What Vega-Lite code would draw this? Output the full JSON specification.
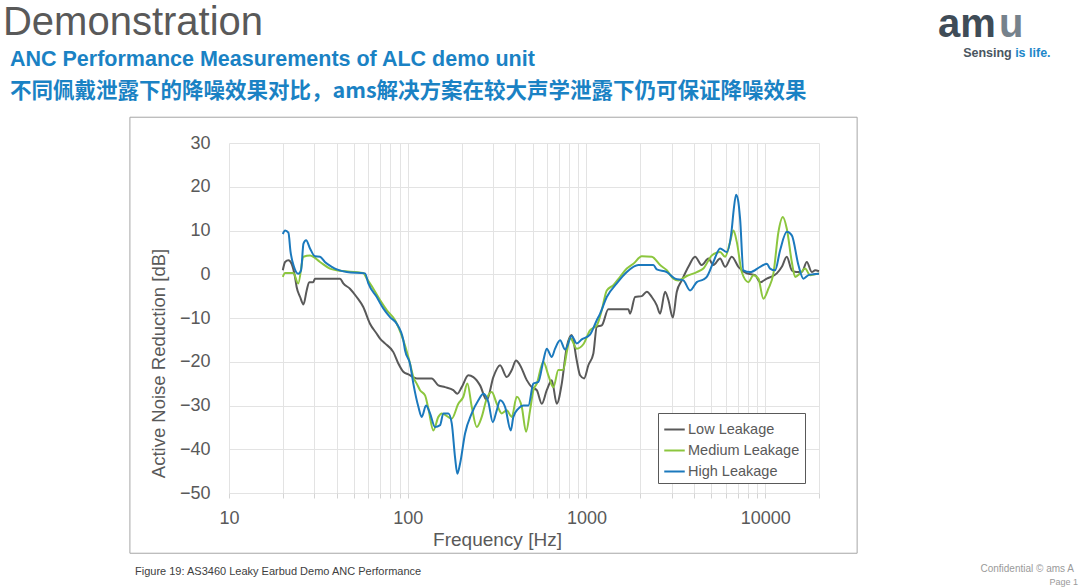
{
  "$schema": "https://vega.github.io/schema/vega-lite/v6.json",
  "width": 590,
  "height": 350,
  "autosize": {"type": "none"},
  "padding": {"left": 229, "top": 143, "right": 261, "bottom": 94},
  "background": "#ffffff",
  "config": {"view": {"stroke": null}, "font": "Liberation Sans"},
  "layer": [
    {
      "data": {"values": [{"box": "frame"}]},
      "mark": {"type": "rect", "filled": false, "stroke": "#a6a6a6", "strokeWidth": 1, "clip": false},
      "encoding": {
        "x": {"datum": 2.79, "type": "quantitative"},
        "x2": {"datum": 32690},
        "y": {"datum": 35.89, "type": "quantitative"},
        "y2": {"datum": -63.77}
      }
    },
    {
      "data": {"values": [
        {"series": "Low Leakage", "freq": 20, "db": 0.9}, {"series": "Low Leakage", "freq": 20.6, "db": 2.8}, {"series": "Low Leakage", "freq": 21.5, "db": 3.2}, {"series": "Low Leakage", "freq": 22.4, "db": 2.4}, {"series": "Low Leakage", "freq": 23.4, "db": -0.6}, {"series": "Low Leakage", "freq": 23.9, "db": -2.9}, {"series": "Low Leakage", "freq": 25, "db": -5.2}, {"series": "Low Leakage", "freq": 26.1, "db": -6.9}, {"series": "Low Leakage", "freq": 27.2, "db": -3.7}, {"series": "Low Leakage", "freq": 28.1, "db": -1.8}, {"series": "Low Leakage", "freq": 29.6, "db": -1.8}, {"series": "Low Leakage", "freq": 30.3, "db": -1.0}, {"series": "Low Leakage", "freq": 41.8, "db": -1.0}, {"series": "Low Leakage", "freq": 43.6, "db": -2.1}, {"series": "Low Leakage", "freq": 47.5, "db": -3.3}, {"series": "Low Leakage", "freq": 51.8, "db": -5.2}, {"series": "Low Leakage", "freq": 56.4, "db": -7.5}, {"series": "Low Leakage", "freq": 61.5, "db": -11.3}, {"series": "Low Leakage", "freq": 67.1, "db": -13.6}, {"series": "Low Leakage", "freq": 70, "db": -14.7}, {"series": "Low Leakage", "freq": 74.6, "db": -15.8}, {"series": "Low Leakage", "freq": 83.1, "db": -17.8}, {"series": "Low Leakage", "freq": 88.6, "db": -20.4}, {"series": "Low Leakage", "freq": 94.5, "db": -22.3}, {"series": "Low Leakage", "freq": 100.8, "db": -22.9}, {"series": "Low Leakage", "freq": 112.3, "db": -23.8}, {"series": "Low Leakage", "freq": 136.2, "db": -23.8}, {"series": "Low Leakage", "freq": 148.4, "db": -25.4}, {"series": "Low Leakage", "freq": 161.7, "db": -25.8}, {"series": "Low Leakage", "freq": 179.9, "db": -26.5}, {"series": "Low Leakage", "freq": 189.5, "db": -27.3}, {"series": "Low Leakage", "freq": 200.5, "db": -25.8}, {"series": "Low Leakage", "freq": 218.3, "db": -23.1}, {"series": "Low Leakage", "freq": 232.9, "db": -23.5}, {"series": "Low Leakage", "freq": 253.9, "db": -25.4}, {"series": "Low Leakage", "freq": 276.8, "db": -28.8}, {"series": "Low Leakage", "freq": 301.3, "db": -23.5}, {"series": "Low Leakage", "freq": 328.5, "db": -20.8}, {"series": "Low Leakage", "freq": 358.1, "db": -23.5}, {"series": "Low Leakage", "freq": 381.9, "db": -21.9}, {"series": "Low Leakage", "freq": 403.7, "db": -19.7}, {"series": "Low Leakage", "freq": 425.1, "db": -20.8}, {"series": "Low Leakage", "freq": 463.4, "db": -24.2}, {"series": "Low Leakage", "freq": 494.2, "db": -25.8}, {"series": "Low Leakage", "freq": 527.2, "db": -26.5}, {"series": "Low Leakage", "freq": 562.3, "db": -29.6}, {"series": "Low Leakage", "freq": 599.6, "db": -26.5}, {"series": "Low Leakage", "freq": 639.5, "db": -24.2}, {"series": "Low Leakage", "freq": 682.1, "db": -29.6}, {"series": "Low Leakage", "freq": 727.5, "db": -25.0}, {"series": "Low Leakage", "freq": 776, "db": -16.6}, {"series": "Low Leakage", "freq": 827.4, "db": -13.9}, {"series": "Low Leakage", "freq": 882.4, "db": -19.7}, {"series": "Low Leakage", "freq": 921, "db": -23.1}, {"series": "Low Leakage", "freq": 969.6, "db": -23.8}, {"series": "Low Leakage", "freq": 1025, "db": -20.8}, {"series": "Low Leakage", "freq": 1093, "db": -18.1}, {"series": "Low Leakage", "freq": 1142, "db": -12.0}, {"series": "Low Leakage", "freq": 1218, "db": -11.7}, {"series": "Low Leakage", "freq": 1326, "db": -8.0}, {"series": "Low Leakage", "freq": 1716, "db": -8.0}, {"series": "Low Leakage", "freq": 1754, "db": -9.0}, {"series": "Low Leakage", "freq": 1871, "db": -5.2}, {"series": "Low Leakage", "freq": 2040, "db": -5.0}, {"series": "Low Leakage", "freq": 2175, "db": -4.0}, {"series": "Low Leakage", "freq": 2320, "db": -5.2}, {"series": "Low Leakage", "freq": 2474, "db": -7.1}, {"series": "Low Leakage", "freq": 2582, "db": -9.0}, {"series": "Low Leakage", "freq": 2754, "db": -4.0}, {"series": "Low Leakage", "freq": 2873, "db": -5.9}, {"series": "Low Leakage", "freq": 3041, "db": -9.9}, {"series": "Low Leakage", "freq": 3202, "db": -4.0}, {"series": "Low Leakage", "freq": 3415, "db": -1.4}, {"series": "Low Leakage", "freq": 3718, "db": 1.7}, {"series": "Low Leakage", "freq": 4053, "db": 4.0}, {"series": "Low Leakage", "freq": 4419, "db": 2.1}, {"series": "Low Leakage", "freq": 4811, "db": 3.6}, {"series": "Low Leakage", "freq": 5131, "db": 2.1}, {"series": "Low Leakage", "freq": 5593, "db": 3.6}, {"series": "Low Leakage", "freq": 5966, "db": 1.7}, {"series": "Low Leakage", "freq": 6504, "db": 4.0}, {"series": "Low Leakage", "freq": 7082, "db": 1.7}, {"series": "Low Leakage", "freq": 7891, "db": 0.2}, {"series": "Low Leakage", "freq": 8781, "db": -0.2}, {"series": "Low Leakage", "freq": 9365, "db": -1.8}, {"series": "Low Leakage", "freq": 10210, "db": -1.0}, {"series": "Low Leakage", "freq": 11610, "db": 0.2}, {"series": "Low Leakage", "freq": 12390, "db": 1.7}, {"series": "Low Leakage", "freq": 13210, "db": 4.0}, {"series": "Low Leakage", "freq": 14090, "db": 0.9}, {"series": "Low Leakage", "freq": 15030, "db": 0.5}, {"series": "Low Leakage", "freq": 16030, "db": 0.5}, {"series": "Low Leakage", "freq": 17090, "db": 2.8}, {"series": "Low Leakage", "freq": 18230, "db": 0.5}, {"series": "Low Leakage", "freq": 19030, "db": 0.9}, {"series": "Low Leakage", "freq": 20000, "db": 0.7},
        {"series": "Medium Leakage", "freq": 20, "db": -0.6}, {"series": "Medium Leakage", "freq": 20.6, "db": 0.3}, {"series": "Medium Leakage", "freq": 22.9, "db": 0.3}, {"series": "Medium Leakage", "freq": 24.4, "db": -2.1}, {"series": "Medium Leakage", "freq": 26.1, "db": 4.0}, {"series": "Medium Leakage", "freq": 28.4, "db": 4.3}, {"series": "Medium Leakage", "freq": 32.3, "db": 2.8}, {"series": "Medium Leakage", "freq": 36.7, "db": 1.3}, {"series": "Medium Leakage", "freq": 40.1, "db": 0.9}, {"series": "Medium Leakage", "freq": 56.4, "db": 0.3}, {"series": "Medium Leakage", "freq": 59, "db": -1.0}, {"series": "Medium Leakage", "freq": 64.2, "db": -3.3}, {"series": "Medium Leakage", "freq": 70, "db": -5.9}, {"series": "Medium Leakage", "freq": 76.3, "db": -8.2}, {"series": "Medium Leakage", "freq": 84.9, "db": -10.5}, {"series": "Medium Leakage", "freq": 94.5, "db": -15.1}, {"series": "Medium Leakage", "freq": 103, "db": -20.4}, {"series": "Medium Leakage", "freq": 107.5, "db": -23.5}, {"series": "Medium Leakage", "freq": 112.3, "db": -25.0}, {"series": "Medium Leakage", "freq": 117.2, "db": -26.5}, {"series": "Medium Leakage", "freq": 125, "db": -27.7}, {"series": "Medium Leakage", "freq": 130.4, "db": -30.7}, {"series": "Medium Leakage", "freq": 139.1, "db": -35.7}, {"series": "Medium Leakage", "freq": 148.4, "db": -32.6}, {"series": "Medium Leakage", "freq": 155, "db": -31.8}, {"series": "Medium Leakage", "freq": 176.3, "db": -33.0}, {"series": "Medium Leakage", "freq": 191.9, "db": -29.6}, {"series": "Medium Leakage", "freq": 204.7, "db": -28.0}, {"series": "Medium Leakage", "freq": 215.6, "db": -25.0}, {"series": "Medium Leakage", "freq": 228.1, "db": -30.3}, {"series": "Medium Leakage", "freq": 243.3, "db": -34.9}, {"series": "Medium Leakage", "freq": 259.5, "db": -32.6}, {"series": "Medium Leakage", "freq": 276.8, "db": -28.4}, {"series": "Medium Leakage", "freq": 295.2, "db": -26.9}, {"series": "Medium Leakage", "freq": 314.8, "db": -29.6}, {"series": "Medium Leakage", "freq": 335.7, "db": -31.8}, {"series": "Medium Leakage", "freq": 358.1, "db": -31.1}, {"series": "Medium Leakage", "freq": 381.9, "db": -32.6}, {"series": "Medium Leakage", "freq": 407.4, "db": -28.0}, {"series": "Medium Leakage", "freq": 434.5, "db": -30.3}, {"series": "Medium Leakage", "freq": 459.2, "db": -36.0}, {"series": "Medium Leakage", "freq": 483.5, "db": -31.1}, {"series": "Medium Leakage", "freq": 504.6, "db": -26.5}, {"series": "Medium Leakage", "freq": 527.2, "db": -25.0}, {"series": "Medium Leakage", "freq": 574, "db": -20.0}, {"series": "Medium Leakage", "freq": 612.1, "db": -23.1}, {"series": "Medium Leakage", "freq": 652.9, "db": -25.8}, {"series": "Medium Leakage", "freq": 696.4, "db": -21.9}, {"series": "Medium Leakage", "freq": 739.8, "db": -21.9}, {"series": "Medium Leakage", "freq": 778.8, "db": -17.5}, {"series": "Medium Leakage", "freq": 809.5, "db": -14.5}, {"series": "Medium Leakage", "freq": 882.4, "db": -17.0}, {"series": "Medium Leakage", "freq": 960.9, "db": -16.0}, {"series": "Medium Leakage", "freq": 1047, "db": -12.8}, {"series": "Medium Leakage", "freq": 1142, "db": -11.7}, {"series": "Medium Leakage", "freq": 1218, "db": -8.2}, {"series": "Medium Leakage", "freq": 1299, "db": -3.7}, {"series": "Medium Leakage", "freq": 1414, "db": -2.5}, {"series": "Medium Leakage", "freq": 1542, "db": -0.6}, {"series": "Medium Leakage", "freq": 1681, "db": 1.3}, {"series": "Medium Leakage", "freq": 1830, "db": 2.4}, {"series": "Medium Leakage", "freq": 2040, "db": 4.1}, {"series": "Medium Leakage", "freq": 2320, "db": 4.0}, {"series": "Medium Leakage", "freq": 2582, "db": 2.1}, {"series": "Medium Leakage", "freq": 2814, "db": 0.9}, {"series": "Medium Leakage", "freq": 3064, "db": -1.0}, {"series": "Medium Leakage", "freq": 3268, "db": -1.4}, {"series": "Medium Leakage", "freq": 3641, "db": -0.4}, {"series": "Medium Leakage", "freq": 4142, "db": 0.5}, {"series": "Medium Leakage", "freq": 4510, "db": 1.3}, {"series": "Medium Leakage", "freq": 5026, "db": 4.3}, {"series": "Medium Leakage", "freq": 5593, "db": 5.1}, {"series": "Medium Leakage", "freq": 5966, "db": 4.0}, {"series": "Medium Leakage", "freq": 6363, "db": 7.4}, {"series": "Medium Leakage", "freq": 6640, "db": 10.0}, {"series": "Medium Leakage", "freq": 6935, "db": 7.4}, {"series": "Medium Leakage", "freq": 7398, "db": 0.5}, {"series": "Medium Leakage", "freq": 8054, "db": -1.8}, {"series": "Medium Leakage", "freq": 8590, "db": -0.2}, {"series": "Medium Leakage", "freq": 9162, "db": -1.0}, {"series": "Medium Leakage", "freq": 9772, "db": -5.6}, {"series": "Medium Leakage", "freq": 10420, "db": -3.3}, {"series": "Medium Leakage", "freq": 11120, "db": 0.2}, {"series": "Medium Leakage", "freq": 11860, "db": 9.7}, {"series": "Medium Leakage", "freq": 12550, "db": 13.1}, {"series": "Medium Leakage", "freq": 13210, "db": 10.4}, {"series": "Medium Leakage", "freq": 14090, "db": 2.8}, {"series": "Medium Leakage", "freq": 14700, "db": -0.6}, {"series": "Medium Leakage", "freq": 15680, "db": 0.2}, {"series": "Medium Leakage", "freq": 16720, "db": 1.3}, {"series": "Medium Leakage", "freq": 17840, "db": -0.2}, {"series": "Medium Leakage", "freq": 20000, "db": 0.2},
        {"series": "High Leakage", "freq": 20, "db": 9.2}, {"series": "High Leakage", "freq": 20.6, "db": 10.0}, {"series": "High Leakage", "freq": 21.5, "db": 9.5}, {"series": "High Leakage", "freq": 22.1, "db": 5.1}, {"series": "High Leakage", "freq": 23.1, "db": 1.7}, {"series": "High Leakage", "freq": 24.4, "db": 0.1}, {"series": "High Leakage", "freq": 25.3, "db": 0.9}, {"series": "High Leakage", "freq": 26.1, "db": 7.0}, {"series": "High Leakage", "freq": 27, "db": 7.8}, {"series": "High Leakage", "freq": 28.4, "db": 5.9}, {"series": "High Leakage", "freq": 30.3, "db": 4.1}, {"series": "High Leakage", "freq": 32.3, "db": 4.0}, {"series": "High Leakage", "freq": 34.4, "db": 2.8}, {"series": "High Leakage", "freq": 37.6, "db": 1.7}, {"series": "High Leakage", "freq": 40.1, "db": 1.1}, {"series": "High Leakage", "freq": 45.6, "db": 0.5}, {"series": "High Leakage", "freq": 57.7, "db": 0.2}, {"series": "High Leakage", "freq": 60.2, "db": -2.1}, {"series": "High Leakage", "freq": 67.1, "db": -5.2}, {"series": "High Leakage", "freq": 73, "db": -7.8}, {"series": "High Leakage", "freq": 79.6, "db": -9.8}, {"series": "High Leakage", "freq": 86.8, "db": -11.3}, {"series": "High Leakage", "freq": 94.5, "db": -15.1}, {"series": "High Leakage", "freq": 96.6, "db": -17.4}, {"series": "High Leakage", "freq": 103, "db": -20.5}, {"series": "High Leakage", "freq": 107.5, "db": -25.0}, {"series": "High Leakage", "freq": 114.7, "db": -30.3}, {"series": "High Leakage", "freq": 119.8, "db": -32.6}, {"series": "High Leakage", "freq": 126.6, "db": -30.0}, {"series": "High Leakage", "freq": 133.3, "db": -31.8}, {"series": "High Leakage", "freq": 142.2, "db": -34.9}, {"series": "High Leakage", "freq": 151.7, "db": -34.5}, {"series": "High Leakage", "freq": 158.2, "db": -31.8}, {"series": "High Leakage", "freq": 168.7, "db": -31.8}, {"series": "High Leakage", "freq": 176.3, "db": -34.1}, {"series": "High Leakage", "freq": 183.9, "db": -41.8}, {"series": "High Leakage", "freq": 189.5, "db": -45.6}, {"series": "High Leakage", "freq": 196.2, "db": -43.3}, {"series": "High Leakage", "freq": 209.3, "db": -36.4}, {"series": "High Leakage", "freq": 228.1, "db": -31.8}, {"series": "High Leakage", "freq": 248.4, "db": -28.8}, {"series": "High Leakage", "freq": 264.9, "db": -27.3}, {"series": "High Leakage", "freq": 282.5, "db": -29.2}, {"series": "High Leakage", "freq": 299.1, "db": -33.8}, {"series": "High Leakage", "freq": 314.8, "db": -31.1}, {"series": "High Leakage", "freq": 328.5, "db": -28.8}, {"series": "High Leakage", "freq": 350.4, "db": -30.3}, {"series": "High Leakage", "freq": 377.2, "db": -35.7}, {"series": "High Leakage", "freq": 389.9, "db": -32.6}, {"series": "High Leakage", "freq": 415.9, "db": -30.7}, {"series": "High Leakage", "freq": 443.6, "db": -30.0}, {"series": "High Leakage", "freq": 473.1, "db": -30.0}, {"series": "High Leakage", "freq": 504.6, "db": -25.0}, {"series": "High Leakage", "freq": 538.2, "db": -24.6}, {"series": "High Leakage", "freq": 574, "db": -19.7}, {"series": "High Leakage", "freq": 599.6, "db": -17.0}, {"series": "High Leakage", "freq": 639.5, "db": -18.9}, {"series": "High Leakage", "freq": 667.4, "db": -17.0}, {"series": "High Leakage", "freq": 711.9, "db": -15.1}, {"series": "High Leakage", "freq": 759.3, "db": -17.2}, {"series": "High Leakage", "freq": 827.4, "db": -14.1}, {"series": "High Leakage", "freq": 882.4, "db": -15.8}, {"series": "High Leakage", "freq": 941.2, "db": -14.9}, {"series": "High Leakage", "freq": 1047, "db": -13.8}, {"series": "High Leakage", "freq": 1142, "db": -10.5}, {"series": "High Leakage", "freq": 1192, "db": -9.0}, {"series": "High Leakage", "freq": 1299, "db": -5.2}, {"series": "High Leakage", "freq": 1478, "db": -2.1}, {"series": "High Leakage", "freq": 1681, "db": 0.5}, {"series": "High Leakage", "freq": 1952, "db": 2.1}, {"series": "High Leakage", "freq": 2368, "db": 2.1}, {"series": "High Leakage", "freq": 2474, "db": 1.1}, {"series": "High Leakage", "freq": 2814, "db": 0.5}, {"series": "High Leakage", "freq": 3132, "db": -1.0}, {"series": "High Leakage", "freq": 3486, "db": -1.4}, {"series": "High Leakage", "freq": 3799, "db": -3.7}, {"series": "High Leakage", "freq": 4142, "db": -1.8}, {"series": "High Leakage", "freq": 4510, "db": -1.2}, {"series": "High Leakage", "freq": 4711, "db": -0.6}, {"series": "High Leakage", "freq": 5131, "db": 2.8}, {"series": "High Leakage", "freq": 5593, "db": 5.9}, {"series": "High Leakage", "freq": 6098, "db": 5.1}, {"series": "High Leakage", "freq": 6504, "db": 10.4}, {"series": "High Leakage", "freq": 6655, "db": 14.5}, {"series": "High Leakage", "freq": 6873, "db": 18.2}, {"series": "High Leakage", "freq": 7055, "db": 16.9}, {"series": "High Leakage", "freq": 7236, "db": 12.7}, {"series": "High Leakage", "freq": 7551, "db": 0.9}, {"series": "High Leakage", "freq": 8232, "db": 0.5}, {"series": "High Leakage", "freq": 9365, "db": 1.7}, {"series": "High Leakage", "freq": 10210, "db": 2.4}, {"series": "High Leakage", "freq": 10650, "db": 1.3}, {"series": "High Leakage", "freq": 11360, "db": 0.9}, {"series": "High Leakage", "freq": 12120, "db": 5.5}, {"series": "High Leakage", "freq": 13210, "db": 9.7}, {"series": "High Leakage", "freq": 14090, "db": 8.9}, {"series": "High Leakage", "freq": 15340, "db": 2.1}, {"series": "High Leakage", "freq": 16360, "db": -1.0}, {"series": "High Leakage", "freq": 17450, "db": -0.2}, {"series": "High Leakage", "freq": 18620, "db": 0.0}, {"series": "High Leakage", "freq": 20000, "db": 0.1}
      ]},
      "mark": {"type": "line", "strokeWidth": 2, "interpolate": "monotone"},
      "encoding": {
        "x": {
          "field": "freq", "type": "quantitative",
          "scale": {"type": "log", "domain": [10, 20000], "nice": false},
          "axis": {
            "title": "Frequency [Hz]",
            "values": [10, 20, 30, 40, 50, 60, 70, 80, 90, 100, 200, 300, 400, 500, 600, 700, 800, 900, 1000, 2000, 3000, 4000, 5000, 6000, 7000, 8000, 9000, 10000, 20000],
            "format": "d",
            "labelExpr": "(datum.value == 10 || datum.value == 100 || datum.value == 1000 || datum.value == 10000) ? datum.label : ''",
            "labelFlush": false, "labelOverlap": false,
            "grid": true, "gridColor": "#e3e3e3", "domain": false,
            "ticks": true, "tickColor": "#d4d4d4", "tickSize": 5,
            "labelFontSize": 18, "labelColor": "#595959", "labelPadding": 11,
            "titleFontSize": 19, "titleColor": "#595959", "titleFontWeight": "normal",
            "titleX": 268, "titleY": 37, "titleAlign": "center", "titleBaseline": "top"
          }
        },
        "y": {
          "field": "db", "type": "quantitative",
          "scale": {"domain": [-50, 30], "nice": false, "zero": false},
          "axis": {
            "title": "Active Noise Reduction [dB]",
            "values": [-50, -40, -30, -20, -10, 0, 10, 20, 30],
            "labelFlush": false,
            "grid": true, "gridColor": "#e3e3e3", "domain": false, "ticks": false,
            "labelFontSize": 18, "labelColor": "#595959", "labelPadding": 19,
            "titleFontSize": 18.5, "titleColor": "#595959", "titleFontWeight": "normal",
            "titleX": -61, "titleY": 220
          }
        },
        "color": {
          "field": "series", "type": "nominal",
          "scale": {"domain": ["Low Leakage", "Medium Leakage", "High Leakage"], "range": ["#595959", "#8cc63e", "#1b79bd"]},
          "legend": {
            "title": null, "orient": "none", "legendX": 429, "legendY": 270,
            "strokeColor": "#595959", "fillColor": "#ffffff", "padding": 5,
            "symbolType": "stroke", "symbolSize": 420, "symbolStrokeWidth": 2,
            "labelFontSize": 14.5, "labelColor": "#595959", "labelFont": "Liberation Sans",
            "rowPadding": 3, "labelOffset": 2
          }
        }
      }
    },
    {
      "data": {"values": [{"label": "Demonstration"}]},
      "mark": {"type": "text", "align": "left", "baseline": "alphabetic", "fontSize": 40, "color": "#595959", "font": "Liberation Sans"},
      "encoding": {"text": {"field": "label"}, "x": {"datum": 0.5437, "type": "quantitative"}, "y": {"datum": 54.63, "type": "quantitative"}}
    },
    {
      "data": {"values": [{"label": "ANC Performance Measurements of ALC demo unit"}]},
      "mark": {"type": "text", "align": "left", "baseline": "alphabetic", "fontSize": 21.5, "fontWeight": "bold", "color": "#1a82c4", "font": "Liberation Sans"},
      "encoding": {"text": {"field": "label"}, "x": {"datum": 0.595, "type": "quantitative"}, "y": {"datum": 47.54, "type": "quantitative"}}
    },
    {
      "data": {"values": [{"label": "不同佩戴泄露下的降噪效果对比，ams解决方案在较大声学泄露下仍可保证降噪效果"}]},
      "mark": {"type": "text", "align": "left", "baseline": "alphabetic", "fontSize": 21.5, "fontWeight": "bold", "color": "#1a82c4", "font": "Noto Sans CJK SC"},
      "encoding": {"text": {"field": "label"}, "x": {"datum": 0.595, "type": "quantitative"}, "y": {"datum": 40.23, "type": "quantitative"}}
    },
    {
      "data": {"values": [{"label": "am"}]},
      "mark": {"type": "text", "align": "left", "baseline": "alphabetic", "fontSize": 40, "fontWeight": "bold", "color": "#3f4c57", "font": "Liberation Sans"},
      "encoding": {"text": {"field": "label"}, "x": {"datum": 92660, "type": "quantitative"}, "y": {"datum": 54.17, "type": "quantitative"}}
    },
    {
      "data": {"values": [{"label": "u"}]},
      "mark": {"type": "text", "align": "left", "baseline": "alphabetic", "fontSize": 40, "fontWeight": "bold", "color": "#76828c", "font": "Liberation Sans"},
      "encoding": {"text": {"field": "label"}, "x": {"datum": 203300, "type": "quantitative"}, "y": {"datum": 54.17, "type": "quantitative"}}
    },
    {
      "data": {"values": [{"label": "Sensing"}]},
      "mark": {"type": "text", "align": "left", "baseline": "alphabetic", "fontSize": 12.5, "fontWeight": "bold", "color": "#4a5661", "font": "Liberation Sans"},
      "encoding": {"text": {"field": "label"}, "x": {"datum": 128060, "type": "quantitative"}, "y": {"datum": 49.6, "type": "quantitative"}}
    },
    {
      "data": {"values": [{"label": "is life."}]},
      "mark": {"type": "text", "align": "left", "baseline": "alphabetic", "fontSize": 12.5, "fontWeight": "bold", "color": "#1d87c9", "font": "Liberation Sans"},
      "encoding": {"text": {"field": "label"}, "x": {"datum": 250300, "type": "quantitative"}, "y": {"datum": 49.6, "type": "quantitative"}}
    },
    {
      "data": {"values": [{"label": "Figure 19: AS3460 Leaky Earbud Demo ANC Performance"}]},
      "mark": {"type": "text", "align": "left", "baseline": "alphabetic", "fontSize": 11, "color": "#404040", "font": "Liberation Sans"},
      "encoding": {"text": {"field": "label"}, "x": {"datum": 2.979, "type": "quantitative"}, "y": {"datum": -68.8, "type": "quantitative"}}
    },
    {
      "data": {"values": [{"label": "Confidential © ams A"}]},
      "mark": {"type": "text", "align": "left", "baseline": "alphabetic", "fontSize": 10, "color": "#9a9a9a", "font": "Liberation Sans"},
      "encoding": {"text": {"field": "label"}, "x": {"datum": 160000, "type": "quantitative"}, "y": {"datum": -68.1, "type": "quantitative"}}
    },
    {
      "data": {"values": [{"label": "Page 1"}]},
      "mark": {"type": "text", "align": "left", "baseline": "alphabetic", "fontSize": 9, "color": "#9a9a9a", "font": "Liberation Sans"},
      "encoding": {"text": {"field": "label"}, "x": {"datum": 390000, "type": "quantitative"}, "y": {"datum": -71.0, "type": "quantitative"}}
    }
  ]
}
